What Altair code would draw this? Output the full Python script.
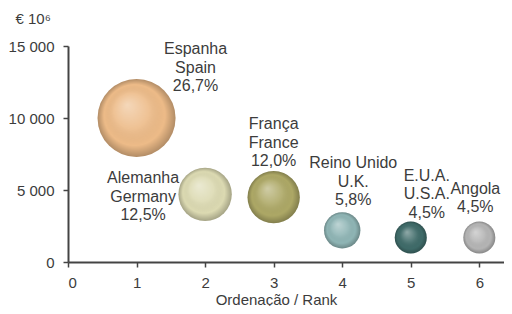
import altair as alt
import pandas as pd

# ---- data ----
rank = [1, 2, 3, 4, 5, 6]
names_pt = ["Espanha", "Alemanha", "França", "Reino Unido", "E.U.A.", "Angola"]
names_en = ["Spain", "Germany", "France", "U.K.", "U.S.A.", ""]
value = [10000, 4700, 4500, 2200, 1700, 1700]
share = [26.7, 12.5, 12.0, 5.8, 4.5, 4.5]
share_txt = ["26,7%", "12,5%", "12,0%", "5,8%", "4,5%", "4,5%"]
colors = ["#EDBB88", "#DCDAB2", "#ADA866", "#8FB5B5", "#3F6B69", "#B5B5B5"]

labels = []
for pt, en, s in zip(names_pt, names_en, share_txt):
    labels.append("\n".join([t for t in [pt, en, s] if t]))

df = pd.DataFrame({"rank": rank, "name": names_pt, "value": value,
                   "share": share, "label": labels})

# ---- styling ----
FONT = "Liberation Sans"
TXT = "#3c3c3c"
AX = "#444444"
label_offsets = {  # (dx, dy) of each label's first line, in pixels
    "Espanha": (59, -69), "Alemanha": (-62, -16), "França": (0, -73),
    "Reino Unido": (11, -67), "E.U.A.": (16, -62), "Angola": (-4, -49),
}

x = alt.X("rank:Q", scale=alt.Scale(domain=[0, 6.36], nice=False),
          axis=alt.Axis(values=[0, 1, 2, 3, 4, 5, 6], title="Ordenação / Rank",
                        grid=False, tickSize=5, labelPadding=8,
                        titleX=208, titleY=42, titleAlign="center",
                        titleBaseline="alphabetic", titleFontSize=15,
                        domainWidth=2, tickWidth=1.5))
y = alt.Y("value:Q", scale=alt.Scale(domain=[0, 15000], nice=False),
          axis=alt.Axis(values=[0, 5000, 10000, 15000], title="€ 10⁶",
                        labelExpr="replace(format(datum.value, ','), ',', ' ')",
                        grid=False, tickSize=5, labelPadding=9,
                        titleAngle=0, titleAlign="left", titleBaseline="alphabetic",
                        titleX=-53, titleY=-23, titleFontSize=15,
                        domainWidth=2, tickWidth=1.5))
size = alt.Size("share:Q", scale=alt.Scale(domain=[0, 26.7], range=[0, 6084], zero=True),
                legend=None)
color = alt.Color("name:N", scale=alt.Scale(domain=names_pt, range=colors), legend=None)

base = alt.Chart(df)
bubbles = base.mark_circle(opacity=1, strokeWidth=0).encode(x=x, y=y, size=size, color=color)
shade = base.mark_circle(opacity=1, strokeWidth=0, fill={
    "gradient": "radial", "x1": 0.38, "y1": 0.33, "r1": 0,
    "x2": 0.5, "y2": 0.5, "r2": 0.5,
    "stops": [
        {"offset": 0, "color": "rgba(255,255,255,0.42)"},
        {"offset": 0.45, "color": "rgba(255,255,255,0.1)"},
        {"offset": 0.78, "color": "rgba(0,0,0,0)"},
        {"offset": 1, "color": "rgba(0,0,0,0.25)"},
    ]}).encode(x=x, y=y, size=size)

layers = [bubbles, shade]
for nm in names_pt:
    dx, dy = label_offsets[nm]
    layers.append(
        base.transform_filter(alt.datum.name == nm).mark_text(
            lineBreak="\n", align="center", baseline="middle", dx=dx, dy=dy,
            font=FONT, fontSize=16, lineHeight=18.5, color=TXT
        ).encode(x=x, y=y, text="label:N")
    )

chart = alt.layer(*layers).properties(
    width=436, height=216,
    autosize=alt.AutoSizeParams(type="none"),
    padding={"left": 60, "top": 38, "right": 0, "bottom": 44},
).configure_view(stroke=None).configure_axis(
    labelFont=FONT, titleFont=FONT, labelFontSize=15, titleFontSize=14,
    labelColor=TXT, titleColor=TXT, titleFontWeight="normal",
    domainColor=AX, tickColor=AX,
)

chart.save("out.html", embed_options={"renderer": "svg", "actions": False})
